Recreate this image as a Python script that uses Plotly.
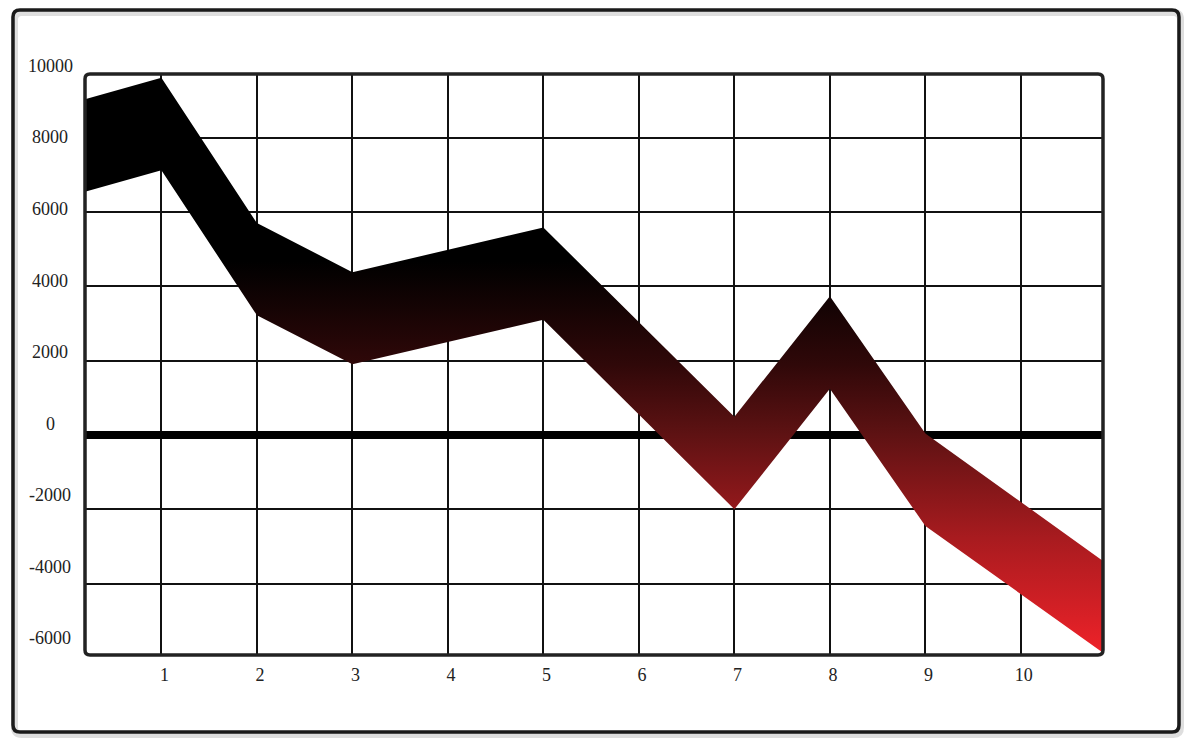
import plotly.graph_objects as go

# page is shown with the browser's 8px body margin, so everything below is
# measured in page pixels and shifted back by OFF
OFF = 8
W, H = 1200 - OFF, 750 - OFF

# band edges (x = step, y = value)
X_PTS = [0.2, 1, 2, 3, 5, 7, 8, 9, 10.86]
UPPER = [9030, 9610, 5700, 4380, 5580, 490, 3730, 40, -3390]
LOWER = [6540, 7120, 3220, 1900, 3100, -2000, 1240, -2450, -5860]

X_TICKS = [1, 2, 3, 4, 5, 6, 7, 8, 9, 10]
Y_LABELS = [10000, 8000, 6000, 4000, 2000, 0, -2000, -4000, -6000]

X_RANGE = [0.2, 10.86]
Y_RANGE = [-5920, 9710]
# printed y labels are not on the gridlines, they run on their own scale
LABEL_RANGE = [-8084, 10797]

FONT = "Liberation Serif"
INK = "#1a1a1a"

# bottom (lowest value) = red, top = black
RED_SCALE = [
    [0.0, "#ee2229"],
    [0.2, "#a81b1f"],
    [0.38, "#5e1213"],
    [0.5, "#300809"],
    [0.68, "#000000"],
    [1.0, "#000000"],
]


def fx(x):
    return (x - OFF) / W


def fy(y):
    return 1 - (y - OFF) / H


def px(x, y):
    # page pixel -> paper (margins are 0 so paper == whole figure)
    return f"{fx(x):.5f},{fy(y):.5f}"


def rounded_rect(x0, y0, x1, y1, r):
    return (
        f"M{px(x0 + r, y0)} L{px(x1 - r, y0)} Q{px(x1, y0)} {px(x1, y0 + r)} "
        f"L{px(x1, y1 - r)} Q{px(x1, y1)} {px(x1 - r, y1)} "
        f"L{px(x0 + r, y1)} Q{px(x0, y1)} {px(x0, y1 - r)} "
        f"L{px(x0, y0 + r)} Q{px(x0, y0)} {px(x0 + r, y0)} Z"
    )


fig = go.Figure()

fig.add_trace(
    go.Scatter(
        x=X_PTS + X_PTS[::-1],
        y=UPPER + LOWER[::-1],
        mode="lines",
        fill="toself",
        line=dict(width=0),
        fillgradient=dict(type="vertical", colorscale=RED_SCALE),
        hoverinfo="skip",
        showlegend=False,
    )
)
# empty trace so the label axis exists
fig.add_trace(go.Scatter(x=[None], y=[None], xaxis="x2", yaxis="y2", showlegend=False, hoverinfo="skip"))

shapes = [
    # soft shadow of the card
    dict(type="path", path=rounded_rect(14.5, 12.5, 1180.5, 734.5, 7), xref="paper", yref="paper",
         line=dict(color="rgba(0,0,0,0.13)", width=7), layer="below"),
    dict(type="path", path=rounded_rect(13, 10, 1179, 732, 7), xref="paper", yref="paper",
         line=dict(color=INK, width=3.5), fillcolor="rgba(0,0,0,0)", layer="above"),
    # plot frame
    dict(type="path", path=rounded_rect(85, 74, 1103, 655, 5), xref="paper", yref="paper",
         line=dict(color="#222222", width=3.5), fillcolor="rgba(0,0,0,0)", layer="above"),
]

annotations = [
    dict(x=fx(50), xref="paper", y=v, yref="y2", text=str(v), showarrow=False,
         xanchor="center", yanchor="middle", font=dict(family=FONT, size=18, color="#222222"))
    for v in Y_LABELS
]

fig.update_layout(
    width=W,
    height=H,
    margin=dict(l=0, r=0, t=0, b=0),
    paper_bgcolor="white",
    plot_bgcolor="rgba(0,0,0,0)",
    showlegend=False,
    font=dict(family=FONT, size=18, color="#222222"),
    xaxis=dict(
        domain=[fx(85), fx(1103)],
        range=X_RANGE,
        tickvals=X_TICKS,
        ticktext=[str(t) for t in X_TICKS],
        showgrid=True,
        gridcolor="#111111",
        gridwidth=2,
        zeroline=False,
        showline=False,
        ticks="",
        ticklabelstandoff=7,
        ticklabelshift=3,
        tickfont=dict(family=FONT, size=18, color="#222222"),
        automargin=False,
        fixedrange=True,
    ),
    yaxis=dict(
        domain=[fy(655), fy(74)],
        range=Y_RANGE,
        tick0=0,
        dtick=2000,
        showticklabels=False,
        showgrid=True,
        gridcolor="#111111",
        gridwidth=2,
        zeroline=True,
        zerolinecolor="#000000",
        zerolinewidth=8,
        showline=False,
        ticks="",
        automargin=False,
        fixedrange=True,
    ),
    xaxis2=dict(domain=[0, 0.02], anchor="y2", visible=False, fixedrange=True),
    yaxis2=dict(domain=[fy(720), fy(30)], anchor="x2",
                range=[-(720 - 423.5) / 0.03575, (423.5 - 30) / 0.03575],
                visible=False, fixedrange=True),
    shapes=shapes,
    annotations=annotations,
)

fig.write_html("out.html")
